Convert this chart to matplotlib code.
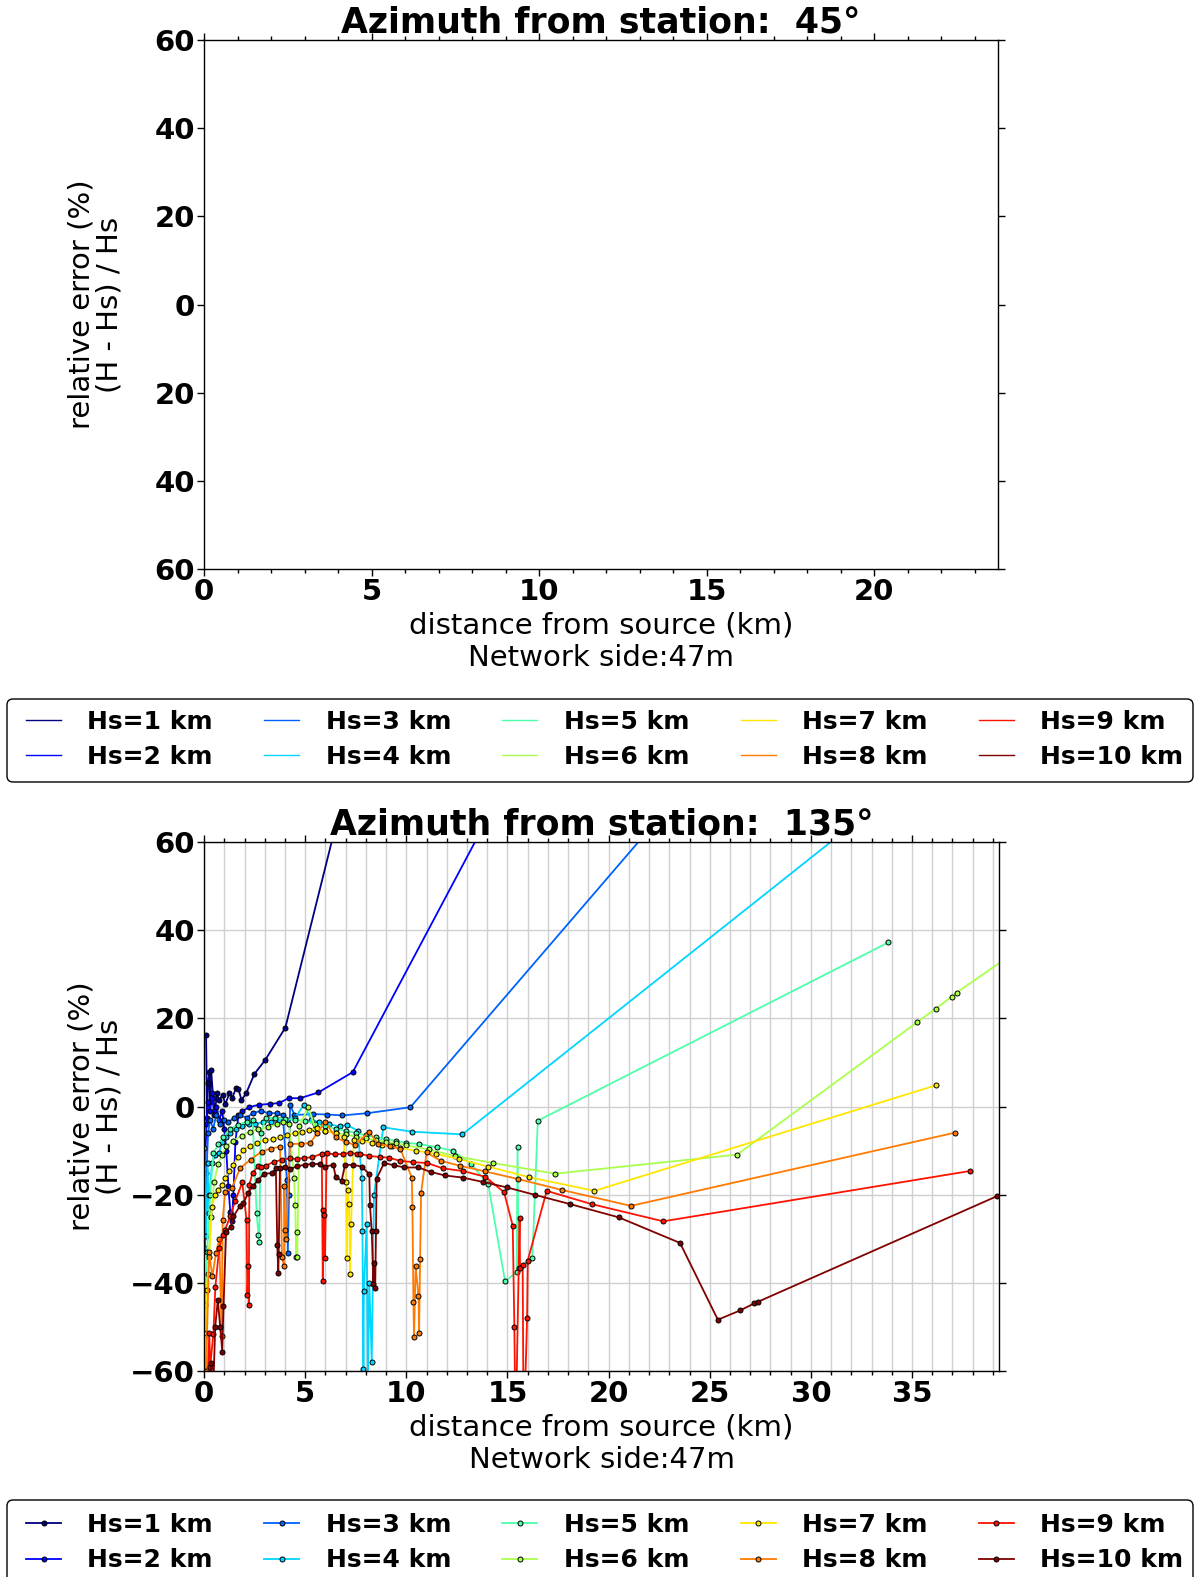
import numpy as np
import matplotlib
matplotlib.use("Agg")
import matplotlib.pyplot as plt
from matplotlib.ticker import MultipleLocator
from matplotlib.patches import FancyBboxPatch

# ---------------- data ----------------
hs_labels = ["Hs=1 km", "Hs=2 km", "Hs=3 km", "Hs=4 km", "Hs=5 km",
             "Hs=6 km", "Hs=7 km", "Hs=8 km", "Hs=9 km", "Hs=10 km"]

x1 = [0.1, 0.15, 0.2, 0.26, 0.3, 0.35, 0.45, 0.55, 0.63, 0.75, 0.92, 1.05, 1.25, 1.4, 1.58, 1.7, 1.85, 2.08, 2.49, 3.03, 4.02, 7.0]
y1 = [16.2, -2.5, 5.3, 7.9, 1.0, 8.3, 2.0, -1.0, 3.0, 1.5, 2.7, 0.5, 3.0, 2.0, 4.2, 4.0, 1.5, 3.0, 7.4, 10.6, 17.9, 72.7]

x2 = [0.05, 0.12, 0.2, 0.3, 0.4, 0.5, 0.6, 0.75, 0.9, 1.0, 1.1, 1.2, 1.3, 1.38, 1.45, 1.55, 1.7, 1.9, 2.24, 2.7, 3.26, 3.7, 4.19, 4.75, 5.65, 7.35, 14.5]
y2 = [-13, -4, 1, -1, 3, -2, 0, -3, -1, -5, -10, -18, -24, -26, -20, -8, -2, -1, -0.1, 0.4, 0.6, 0.8, 1.9, 1.9, 3.2, 7.8, 69.5]

x3 = [0.05, 0.12, 0.2, 0.3, 0.45, 0.6, 0.8, 1.0, 1.2, 1.5, 1.8, 2.1, 2.4, 2.8, 3.2, 3.6, 3.9, 4.1, 4.14, 4.2, 4.25, 4.47, 5.4, 6.1, 6.84, 8.07, 10.2, 23.0]
y3 = [-32, -15, -6, -3, -5, -2, -4, -3, -3.5, -2.5, -2.0, -2.5, -1.5, -1.0, -1.5, -1.5, -2.0, -16.6, -33.2, -20, 0.4, -1.9, -1.7, -1.8, -2.0, -1.5, -0.15, 68.1]

x4 = [0.02, 0.1, 0.18, 0.23, 0.26, 0.4, 0.55, 0.73, 0.9, 1.1, 1.3, 1.6, 1.9, 2.2, 2.5, 2.9, 3.3, 3.7, 4.1, 4.5, 4.94, 5.3, 5.7, 6.2, 6.7, 7.05, 7.6, 7.8, 7.83, 7.88, 7.9, 8.04, 8.1, 8.17, 8.29, 8.4, 8.86, 10.3, 12.77, 33.0]
y4 = [-9.4, -29.4, -12.8, -24.2, -20, -12.7, -11, -10.6, -8, -7, -6, -5, -4.5, -4, -4, -3.5, -3.5, -3, -3, -2.5, 0.4, -3, -3.5, -4, -4.5, -4.1, -5.5, -16.2, -28.3, -59.5, -41.9, -26.6, -62, -40, -57.8, -20, -4.7, -5.7, -6.3, 67.3]

x5 = [0.05, 0.15, 0.3, 0.46, 0.7, 0.96, 1.3, 1.7, 2.11, 2.4, 2.6, 2.69, 2.73, 2.8, 3.06, 3.5, 4.0, 4.5, 4.99, 5.5, 6.0, 6.5, 7.0, 7.5, 8.0, 8.5, 9.0, 9.5, 10.0, 10.65, 11.5, 12.3, 13.2, 14.05, 14.88, 15.45, 15.5, 15.55, 16.23, 16.5, 33.83]
y5 = [-45, -33, -20, -10.6, -8.5, -6.9, -5, -4.1, -3.4, -3.0, -24.2, -29.1, -30.6, -6, -2.6, -2.6, -2.8, -3.0, -3.2, -4, -4.5, -5, -5.5, -6, -6.5, -7, -7.3, -7.8, -8.2, -8.5, -9.2, -10, -13, -17.6, -39.6, -37.5, -9.1, -36.5, -34.2, -3.2, 37.2]

x6 = [0.05, 0.2, 0.35, 0.5, 0.7, 0.87, 1.1, 1.45, 1.86, 2.27, 2.69, 3.18, 3.6, 3.89, 4.2, 4.45, 4.51, 4.55, 4.58, 4.61, 4.7, 5.16, 5.5, 6.0, 6.5, 7.0, 7.5, 8.0, 8.5, 9.0, 9.5, 10.0, 11.1, 12.4, 14.3, 17.35, 26.35, 35.25, 36.17, 36.96, 37.2, 40.5]
y6 = [-52, -38, -25, -17, -13, -10.9, -9, -7.7, -6.6, -5.7, -5.1, -4.7, -4.0, -3.6, -4, -16.2, -22.3, -34.1, -28.5, -34, -4.5, -0.1, -5, -5.5, -6, -6.3, -6.8, -7.2, -7.6, -8, -8.3, -8.8, -9.7, -11.2, -12.8, -15.2, -10.9, 19.1, 22.2, 24.9, 25.8, 36.3]

x7 = [0.05, 0.1, 0.13, 0.25, 0.38, 0.55, 0.7, 0.87, 1.04, 1.25, 1.45, 1.7, 1.94, 2.25, 2.6, 3.02, 3.43, 3.76, 4.1, 4.5, 4.83, 5.2, 5.57, 6.0, 6.5, 6.9, 7.02, 7.05, 7.1, 7.17, 7.22, 7.27, 7.4, 7.8, 8.3, 8.8, 9.3, 9.7, 10.5, 11.45, 12.6, 14.05, 16.07, 19.3, 36.17]
y7 = [-62, -51.3, -41.5, -34, -22.7, -20, -19, -17.7, -16.2, -14.5, -13.2, -11.5, -9.8, -9, -8.3, -7.5, -7.4, -6.9, -6.5, -6, -5.7, -5.3, -4.9, -5.5, -6, -7, -17.2, -34.3, -18.9, -22.1, -38, -26.6, -7.5, -7.8, -8.2, -8.6, -9, -9.4, -10, -10.7, -11.9, -13.6, -16, -19.1, 4.8]

x8 = [0.1, 0.25, 0.41, 0.59, 0.75, 0.87, 0.92, 1.04, 1.37, 1.78, 2.3, 2.85, 3.3, 3.76, 3.85, 3.95, 3.97, 4.0, 4.05, 4.25, 4.8, 5.24, 5.6, 5.98, 6.5, 7.0, 7.46, 8.17, 8.6, 9.2, 9.7, 10.27, 10.3, 10.35, 10.38, 10.46, 10.6, 10.63, 10.68, 10.73, 11.0, 11.7, 12.65, 13.9, 15.5, 17.7, 21.1, 37.13]
y8 = [-60, -33, -38.5, -33.2, -30, -52.1, -25.7, -19.3, -18.5, -14, -12, -10.2, -9.5, -9.1, -34, -36.2, -18.1, -27.9, -30, -8.5, -8.4, -8.3, -6, -3.4, -7, -8, -8.7, -5.7, -8.5, -9, -9.6, -16.1, -22.7, -44.3, -52.3, -36.1, -43, -51.3, -34.6, -19.5, -10.4, -12.3, -13.4, -14.7, -16.4, -18.9, -22.5, -5.9]

x9 = [0.15, 0.26, 0.3, 0.46, 0.56, 0.75, 0.92, 1.04, 1.29, 1.53, 1.89, 2.1, 2.14, 2.19, 2.21, 2.24, 2.4, 2.69, 2.82, 3.06, 3.45, 3.84, 4.25, 4.58, 4.95, 5.32, 5.82, 5.87, 5.9, 5.95, 5.98, 6.06, 6.45, 6.89, 7.2, 7.55, 7.71, 8.17, 8.7, 9.16, 9.69, 10.35, 11.04, 11.8, 12.8, 13.9, 14.83, 15.26, 15.34, 15.4, 15.6, 15.62, 15.75, 15.8, 15.97, 16.0, 16.94, 19.16, 22.7, 37.86]
y9 = [-65, -51.2, -59, -51.5, -40.8, -32, -29.1, -27.9, -24.9, -21.5, -17.2, -25.7, -42.7, -36.2, -44.9, -17.7, -15, -13.4, -13.6, -13.4, -12.5, -12.1, -11.7, -11.9, -11.6, -11.5, -10.7, -39.5, -23.4, -24.5, -34.4, -10.6, -10.8, -10.7, -10.5, -10.7, -10.7, -11.2, -11.4, -11.6, -12.3, -12.6, -12.8, -14, -14.6, -15.9, -19.4, -27, -50, -75, -25.3, -36.6, -35.9, -75, -48, -34.9, -19.1, -22.1, -26, -14.6]

x10 = [0.2, 0.35, 0.45, 0.55, 0.68, 0.8, 0.9, 0.96, 1.09, 1.32, 1.45, 1.78, 1.94, 2.19, 2.4, 2.69, 2.97, 3.35, 3.55, 3.62, 3.67, 3.69, 3.75, 4.0, 4.25, 4.6, 4.99, 5.32, 5.73, 5.98, 6.39, 6.51, 6.8, 6.97, 7.38, 7.79, 8.17, 8.2, 8.29, 8.37, 8.42, 8.46, 8.5, 8.53, 8.9, 9.4, 9.9, 10.6, 11.2, 11.9, 12.8, 13.8, 14.96, 16.35, 18.1, 20.5, 23.53, 25.4, 26.5, 27.2, 27.4, 39.2]
y10 = [-62, -58, -65, -50, -43.8, -50, -55.5, -45.3, -28.5, -27.2, -24.9, -22.5, -21.9, -19.5, -18.1, -16.6, -15.2, -15.1, -14, -31.3, -37.6, -33.4, -14, -13.6, -14.2, -13.5, -13.2, -13, -13, -13.6, -13.2, -16, -16.8, -13.2, -13.2, -13.6, -15.3, -22.3, -28.3, -40.2, -35.5, -41.1, -28.3, -16.3, -12.8, -13.3, -13.8, -13.8, -14.8, -15.6, -16.1, -17.1, -18.3, -20, -22.1, -25.1, -30.9, -48.3, -46.2, -44.6, -44.2, -20.3]

series_x = [x1, x2, x3, x4, x5, x6, x7, x8, x9, x10]
series_y = [y1, y2, y3, y4, y5, y6, y7, y8, y9, y10]

titles = ["Azimuth from station:  45\u00b0", "Azimuth from station:  135\u00b0"]
ytick_vals = [60, 40, 20, 0, -20, -40, -60]
ytick_top = ["60", "40", "20", "0", "20", "40", "60"]
ytick_bottom = ["60", "40", "20", "0", "\u221220", "\u221240", "\u221260"]
xticks_top = [0, 5, 10, 15, 20]
xticks_bottom = [0, 5, 10, 15, 20, 25, 30, 35]

# ---------------- figure ----------------
colors = plt.cm.jet(np.linspace(0, 1, 10))
W, H = 1194, 1577
fig = plt.figure(figsize=(W / 100, H / 100), dpi=100)

TICK_FS = 21
LABEL_FS = 21
TITLE_FS = 25
LEG_FS = 18

ax1 = fig.add_axes([0.1709, 0.6390, 0.6652, 0.3357])
ax2 = fig.add_axes([0.1709, 0.1304, 0.6658, 0.3358])


def style_axes(ax, xticks, xmax, ylabels, title):
    ax.set_xlim(0, xmax)
    ax.set_ylim(-60, 60)
    ax.set_xticks(xticks)
    ax.set_xticklabels([str(t) for t in xticks], fontsize=TICK_FS, fontweight="bold")
    ax.xaxis.set_minor_locator(MultipleLocator(1))
    ax.set_yticks(ytick_vals)
    ax.set_yticklabels(ylabels, fontsize=TICK_FS, fontweight="bold")
    ax.tick_params(which="major", direction="out", length=5, width=1,
                   top=True, right=True, pad=1.5)
    ax.tick_params(which="minor", direction="out", length=3, width=1,
                   top=True, right=False, left=False)
    ax.set_xlabel("distance from source (km)\nNetwork side:47m", fontsize=LABEL_FS,
                  linespacing=1.2)
    ax.set_ylabel("relative error (%)\n(H - Hs) / Hs", fontsize=LABEL_FS,
                  linespacing=1.0, multialignment="center")
    ax.yaxis.set_label_coords(-0.101, 0.5)
    ax.set_title(title, fontsize=TITLE_FS, fontweight="bold", pad=2)
    for s in ax.spines.values():
        s.set_linewidth(1.0)


# top panel: no data drawn
for i in range(10):
    ax1.plot([], [], color=colors[i], lw=1.0, label=hs_labels[i])
style_axes(ax1, xticks_top, 23.71, ytick_top, titles[0])

# bottom panel
for i in range(10):
    ax2.plot(series_x[i], series_y[i], color=colors[i], lw=1.3, marker="o",
             markersize=3.6, markeredgecolor="black", markeredgewidth=0.7,
             markerfacecolor=colors[i], label=hs_labels[i])
style_axes(ax2, xticks_bottom, 39.3, ytick_bottom, titles[1])
ax2.set_axisbelow(True)
ax2.grid(True, which="both", axis="x", color="#d0d0d0", lw=1.0)
ax2.grid(True, which="major", axis="y", color="#d0d0d0", lw=1.0)

leg_kw = dict(ncol=5, mode="expand", loc="upper left", borderaxespad=0,
              prop={"size": LEG_FS, "weight": "bold"}, handlelength=1.4,
              handletextpad=1.05, labelspacing=0.45, borderpad=0.4,
              frameon=False)


def add_legend(ax, top_px, height_px, content_shift):
    h, l = ax.get_legend_handles_labels()
    # content area (inset) and frame drawn separately
    x0, x1 = 16, 1193
    ctop = top_px + content_shift
    fig.legend(h, l, bbox_to_anchor=(x0 / W, (H - ctop - 60) / H,
                                     (x1 - x0) / W, 60 / H), **leg_kw)
    frame = FancyBboxPatch((7 / 100, (H - top_px - height_px) / 100),
                           (1193 - 7) / 100, height_px / 100,
                           boxstyle="round,pad=0,rounding_size=0.06",
                           transform=fig.dpi_scale_trans, facecolor="white",
                           edgecolor="black", linewidth=1.0, zorder=1)
    fig.add_artist(frame)


add_legend(ax1, 699, 83, 1)
add_legend(ax2, 1500, 90, 3)

fig.savefig("out.png", dpi=100)
